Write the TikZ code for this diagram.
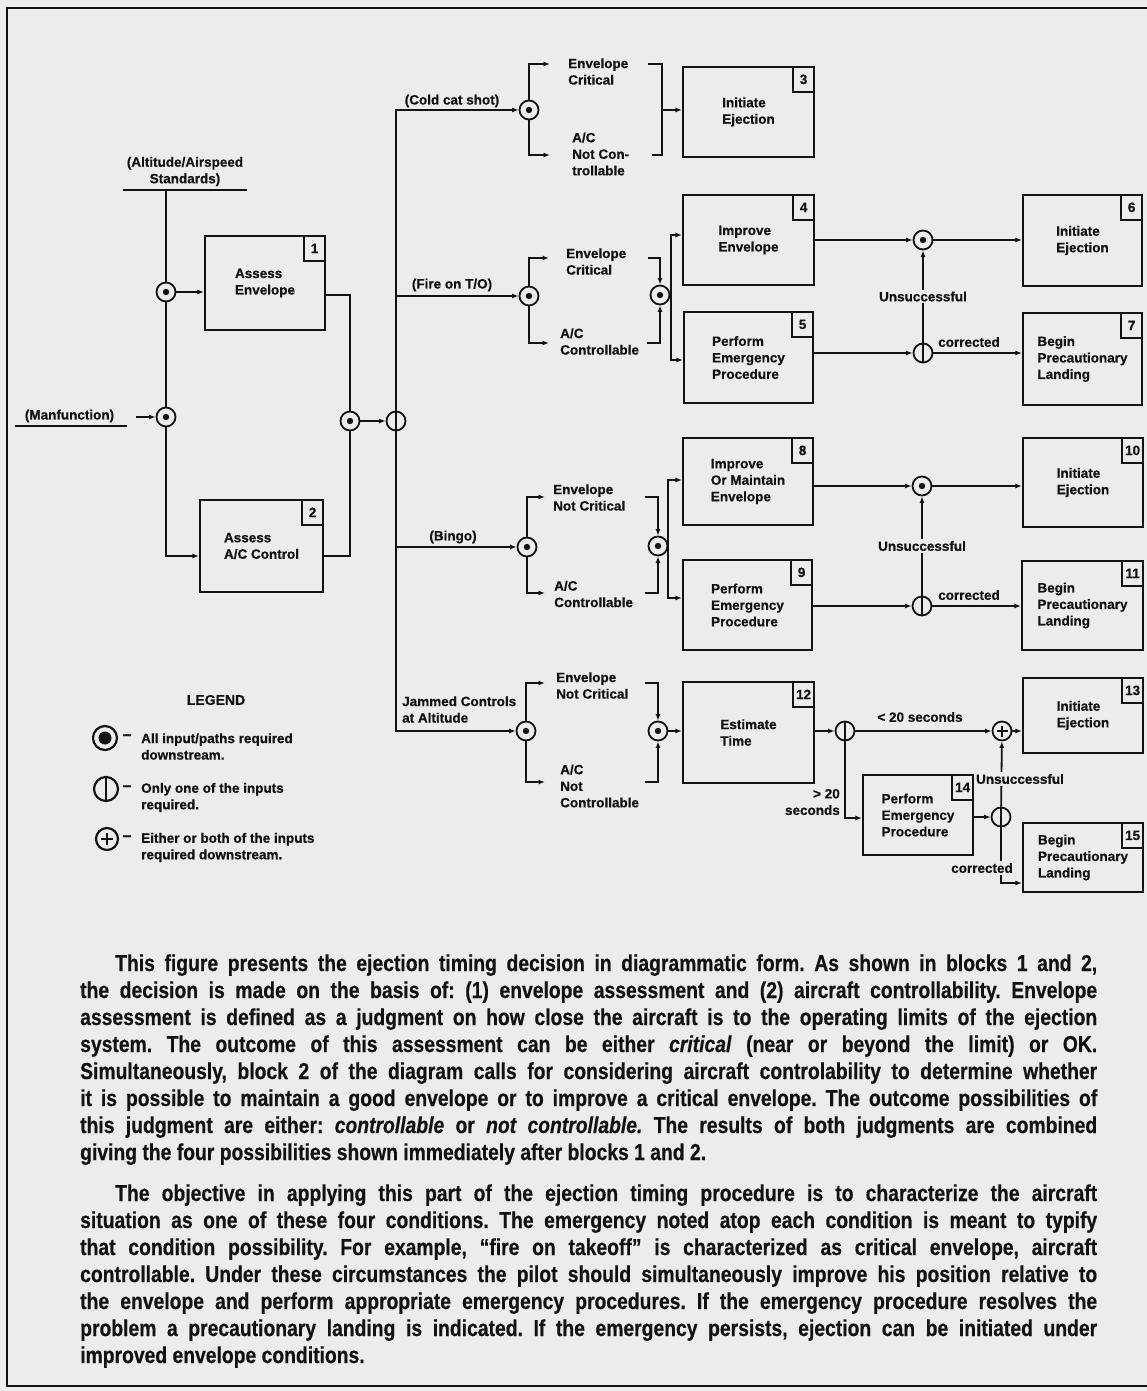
\documentclass[tikz,border=0pt]{standalone}
\usepackage{fontspec}
\usetikzlibrary{arrows.meta}
\newfontfamily\dgfont[BoldFeatures={FakeBold=0.6}]{Liberation Sans}
\newfontfamily\bodyfont[FakeStretch=0.84,BoldFeatures={FakeBold=0.5},BoldItalicFeatures={FakeBold=0.5}]{Liberation Sans}
\definecolor{paper}{RGB}{236,236,236}
\definecolor{ink}{RGB}{18,18,18}
\newcommand\dglab{\dgfont\bfseries\fontsize{13.5pt}{16.5pt}\selectfont}
\newcommand\bodytxt{\bodyfont\bfseries\fontsize{23pt}{27pt}\selectfont}
\begin{document}
\begin{tikzpicture}[x=1pt,y=-1pt,
  ln/.style={draw=ink, line width=1.8pt},
  arr/.style={ln, -{Latex[length=6.5pt,width=5pt]}},
  sym/.style={circle, draw=ink, line width=1.8pt, minimum size=19pt, inner sep=0pt, fill=paper},
  andc/.style={sym, path picture={\fill[ink] (path picture bounding box.center) circle (3.2pt);}},
  orc/.style={sym, path picture={\draw[ink, line width=1.8pt] (path picture bounding box.north) -- (path picture bounding box.south);}},
  plc/.style={sym, path picture={\draw[ink, line width=1.8pt]
     ([yshift=5.5pt]path picture bounding box.center) -- ([yshift=-5.5pt]path picture bounding box.center)
     ([xshift=-5.5pt]path picture bounding box.center) -- ([xshift=5.5pt]path picture bounding box.center);}},
  lgsym/.style={circle, draw=ink, line width=2.2pt, minimum size=24pt, inner sep=0pt, fill=paper},
  box/.style={draw=ink, line width=2.2pt, fill=paper, inner sep=0pt, align=left, font=\dglab, text=ink},
  numbox/.style={draw=ink, line width=2pt, minimum width=21pt, minimum height=25pt, inner sep=0pt, anchor=north east, font=\dglab, text=ink},
  lbl/.style={font=\dglab, text=ink, inner sep=1pt, align=left},
  lblbg/.style={lbl, fill=paper, inner sep=2pt},
]
\fill[paper] (0,0) rectangle (1147,1391);
\useasboundingbox (0,0) rectangle (1147,1391);
% frame
\draw[ink, line width=2pt] (1147,8) -- (7,8) -- (7,1386) -- (1147,1386);

% ---------- boxes ----------
\node[box, minimum width=120pt, minimum height=94pt] (b1) at (265,283) {Assess\\Envelope};
\node[numbox] at (b1.north east) {1};
\node[box, minimum width=123pt, minimum height=92pt] (b2) at (261.5,546) {Assess\\A/C Control};
\node[numbox] at (b2.north east) {2};
\node[box, minimum width=131pt, minimum height=90pt] (b3) at (748.5,112) {Initiate\\Ejection};
\node[numbox] at (b3.north east) {3};
\node[box, minimum width=131pt, minimum height=90pt] (b4) at (748.5,240) {Improve\\Envelope};
\node[numbox] at (b4.north east) {4};
\node[box, minimum width=129pt, minimum height=91pt] (b5) at (748.5,357.5) {Perform\\Emergency\\Procedure};
\node[numbox] at (b5.north east) {5};
\node[box, minimum width=119pt, minimum height=91pt] (b6) at (1082.5,240.5) {Initiate\\Ejection};
\node[numbox] at (b6.north east) {6};
\node[box, minimum width=119pt, minimum height=92pt] (b7) at (1082.5,359) {Begin\\Precautionary\\Landing};
\node[numbox] at (b7.north east) {7};
\node[box, minimum width=130pt, minimum height=87pt] (b8) at (748,481.5) {Improve\\Or Maintain\\Envelope};
\node[numbox] at (b8.north east) {8};
\node[box, minimum width=129pt, minimum height=90pt] (b9) at (747.5,605) {Perform\\Emergency\\Procedure};
\node[numbox] at (b9.north east) {9};
\node[box, minimum width=120pt, minimum height=89pt] (b10) at (1083,482.5) {Initiate\\Ejection};
\node[numbox] at (b10.north east) {10};
\node[box, minimum width=121pt, minimum height=89pt] (b11) at (1082.5,605.5) {Begin\\Precautionary\\Landing};
\node[numbox] at (b11.north east) {11};
\node[box, minimum width=131pt, minimum height=101pt] (b12) at (748.5,732.5) {Estimate\\Time};
\node[numbox] at (b12.north east) {12};
\node[box, minimum width=120pt, minimum height=75pt] (b13) at (1083,715.5) {Initiate\\Ejection};
\node[numbox] at (b13.north east) {13};
\node[box, minimum width=110pt, minimum height=80pt] (b14) at (918,815) {Perform\\Emergency\\Procedure};
\node[numbox] at (b14.north east) {14};
\node[box, minimum width=120pt, minimum height=69pt] (b15) at (1083,857.5) {Begin\\Precautionary\\Landing};
\node[numbox] at (b15.north east) {15};

% ---------- junction symbols ----------
\node[andc] (in1) at (166,292) {};
\node[andc] (mal) at (166,417) {};
\node[andc] (j1) at (350,421) {};
\node[orc]  (or1) at (396,421) {};
\node[andc] (c1) at (529,110) {};
\node[andc] (c2) at (529,296) {};
\node[andc] (c3) at (527,547) {};
\node[andc] (c4) at (526,731) {};
\node[andc] (d2) at (660,295) {};
\node[andc] (d3) at (658,546) {};
\node[andc] (d4) at (658,731) {};
\node[andc] (a4) at (923,240) {};
\node[orc]  (o5) at (923,353) {};
\node[andc] (a8) at (922,486) {};
\node[orc]  (o9) at (922,606) {};
\node[orc]  (o12) at (845,731) {};
\node[plc]  (p13) at (1002,731) {};
\node[orc]  (o14) at (1001,817) {};

% ---------- inputs ----------
\node[lbl, align=center] (alt) at (185,171.5) {(Altitude/Airspeed\\Standards)};
\coordinate (altL) at (123,190);
\coordinate (altR) at (247,190);
\coordinate (altU) at (166,190);
\draw[ln] (altL) -- (altR);
\node[lbl] (malf) at (69.5,416) {(Manfunction)};
\coordinate (malL) at (15,426);
\coordinate (malR) at (127,426);
\draw[ln] (malL) -- (malR);
\coordinate (malIn) at (136,417);

\draw[ln] (altU) -- (in1);
\draw[ln] (in1) -- (mal);
\draw[arr] (malIn) -- (mal);
\draw[arr] (in1) -- (in1 -| b1.west);
\draw[arr] (mal) |- (b2.west |- 0,556);
\draw[ln] (b1.east |- 0,295) -| (j1);
\draw[ln] (b2.east |- 0,556) -| (j1);
\draw[arr] (j1) -- (or1);

% ---------- trunk ----------
\coordinate (tTop) at (396,110);
\coordinate (t2) at (396,296);
\coordinate (t3) at (396,547);
\coordinate (tBot) at (396,731);
\draw[arr] (or1) -- (tTop) -- (c1);
\draw[arr] (or1) -- (tBot) -- (c4);
\draw[arr] (t2) -- (c2);
\draw[arr] (t3) -- (c3);
\node[lbl] at (452,101) {(Cold cat shot)};
\node[lbl] at (452,285) {(Fire on T/O)};
\node[lbl] at (453,537) {(Bingo)};
\node[lbl, anchor=west] at (401,709.5) {Jammed Controls\\at Altitude};

% ---------- group 1 ----------
\coordinate (g1T) at (550,64);
\coordinate (g1B) at (550,155);
\draw[arr] (c1) |- (g1T);
\draw[arr] (c1) |- (g1B);
\node[lbl, anchor=west] (e1) at (567,71.5) {Envelope\\Critical};
\node[lbl, anchor=west] (n1) at (571,154) {A/C\\Not Con-\\trollable};
\coordinate (k1T) at (648,64);
\coordinate (k1TR) at (662,64);
\coordinate (k1BR) at (662,155);
\coordinate (k1B) at (652,155);
\coordinate (br1) at (662,110);
\draw[ln] (k1T) -- (k1TR) -- (k1BR) -- (k1B);
\draw[arr] (br1) -- (br1 -| b3.west);

% ---------- group 2 ----------
\coordinate (g2T) at (549,258);
\coordinate (g2B) at (549,343);
\draw[arr] (c2) |- (g2T);
\draw[arr] (c2) |- (g2B);
\node[lbl, anchor=west] (e2) at (565,261.5) {Envelope\\Critical};
\node[lbl, anchor=west] (n2) at (559,341.5) {A/C\\Controllable};
\coordinate (k2T) at (648,258);
\coordinate (k2B) at (647,343);
\draw[arr] (k2T) -| (d2);
\draw[arr] (k2B) -| (d2);
\coordinate (s2) at (671,295);
\draw[ln] (d2) -- (s2);
\draw[arr] (s2) |- (b4.west |- 0,235);
\draw[arr] (s2) |- (b5.west |- 0,360);
\draw[arr] (b4.east) -- (a4);
\draw[arr] (a4) -- (a4 -| b6.west);
\draw[arr] (b5.east |- o5) -- (o5);
\draw[arr] (o5) -- (o5 -| b7.west);
\draw[arr] (o5) -- node[lblbg] {Unsuccessful} (a4);
\node[lbl] at (969,342) {corrected};

% ---------- group 3 ----------
\coordinate (g3T) at (545,497);
\coordinate (g3B) at (545,593);
\draw[arr] (c3) |- (g3T);
\draw[arr] (c3) |- (g3B);
\node[lbl, anchor=west] (e3) at (552,497.5) {Envelope\\Not Critical};
\node[lbl, anchor=west] (n3) at (553,594) {A/C\\Controllable};
\coordinate (k3T) at (645,497);
\coordinate (k3B) at (645,593);
\draw[arr] (k3T) -| (d3);
\draw[arr] (k3B) -| (d3);
\coordinate (s3) at (668,546);
\draw[ln] (d3) -- (s3);
\draw[arr] (s3) |- (b8.west |- 0,480);
\draw[arr] (s3) |- (b9.west |- 0,598);
\draw[arr] (b8.east |- a8) -- (a8);
\draw[arr] (a8) -- (a8 -| b10.west);
\draw[arr] (b9.east |- o9) -- (o9);
\draw[arr] (o9) -- (o9 -| b11.west);
\draw[arr] (o9) -- node[lblbg] {Unsuccessful} (a8);
\node[lbl] at (969,595) {corrected};

% ---------- group 4 ----------
\coordinate (g4T) at (545,683);
\coordinate (g4B) at (545,782);
\draw[arr] (c4) |- (g4T);
\draw[arr] (c4) |- (g4B);
\node[lbl, anchor=west] (e4) at (555,685.5) {Envelope\\Not Critical};
\node[lbl, anchor=west] (n4) at (559,786) {A/C\\Not\\Controllable};
\coordinate (k4T) at (645,683);
\coordinate (k4B) at (645,782);
\draw[arr] (k4T) -| (d4);
\draw[arr] (k4B) -| (d4);
\draw[arr] (d4) -- (d4 -| b12.west);
\draw[arr] (b12.east |- o12) -- (o12);
\draw[arr] (o12) -- (p13);
\node[lbl] at (920,717) {< 20 seconds};
\draw[arr] (p13) -- (p13 -| b13.west);
\draw[arr] (o12) |- (b14.west |- 0,818);
\node[lbl, anchor=east, align=right] at (841,802) {> 20\\seconds};
\draw[arr] (b14.east |- o14) -- (o14);
\draw[arr] (o14) -- (p13);
\node[lblbg] at (1020,779) {Unsuccessful};
\draw[arr] (o14) |- (b15.west |- 0,883);
\node[lblbg] at (982,868) {corrected};

% ---------- legend ----------
\node[lbl, font=\dgfont\bfseries\fontsize{14pt}{17pt}\selectfont] (lgt) at (216,700) {LEGEND};
\node[lgsym, path picture={\fill[ink] (path picture bounding box.center) circle (6.5pt);}] (lg1) at (105,738) {};
\node[lgsym, path picture={\draw[ink, line width=2pt] (path picture bounding box.north) -- (path picture bounding box.south);}] (lg2) at (106,789) {};
\node[lgsym, minimum size=22pt, path picture={\draw[ink, line width=2pt]
     ([yshift=6pt]path picture bounding box.center) -- ([yshift=-6pt]path picture bounding box.center)
     ([xshift=-6pt]path picture bounding box.center) -- ([xshift=6pt]path picture bounding box.center);}] (lg3) at (107,839) {};
\node[lbl, font=\dgfont\bfseries\fontsize{16pt}{17pt}\selectfont] at (127,737) {–};
\node[lbl, font=\dgfont\bfseries\fontsize{16pt}{17pt}\selectfont] at (127,788) {–};
\node[lbl, font=\dgfont\bfseries\fontsize{16pt}{17pt}\selectfont] at (127,838) {–};
\node[lbl, anchor=west] at (140,746.5) {All input/paths required\\downstream.};
\node[lbl, anchor=west] at (140,797.5) {Only one of the inputs\\required.};
\node[lbl, anchor=west] at (140,847.5) {Either or both of the inputs\\required downstream.};

% ---------- body text ----------
\node[anchor=base west, text width=1017pt, align=justify, inner sep=0pt, font=\bodytxt, text=ink] (body) at (80,971) {%
\parindent=0pt \tolerance=9999 \hbadness=10000 \emergencystretch=20pt \frenchspacing
\hspace*{35pt}This figure presents the ejection timing decision in diagrammatic form. As shown in blocks 1 and 2,\linebreak
the decision is made on the basis of: (1) envelope assessment and (2) aircraft controllability. Envelope\linebreak
assessment is defined as a judgment on how close the aircraft is to the operating limits of the ejection\linebreak
system. The outcome of this assessment can be either \textit{critical} (near or beyond the limit) or OK.\linebreak
Simultaneously, block 2 of the diagram calls for considering aircraft controlability to determine whether\linebreak
it is possible to maintain a good envelope or to improve a critical envelope. The outcome possibilities of\linebreak
this judgment are either: \textit{controllable} or \textit{not controllable.} The results of both judgments are combined\linebreak
giving the four possibilities shown immediately after blocks 1 and 2.\par
\vspace{14pt}
\hspace*{35pt}The objective in applying this part of the ejection timing procedure is to characterize the aircraft\linebreak
situation as one of these four conditions. The emergency noted atop each condition is meant to typify\linebreak
that condition possibility. For example, “fire on takeoff” is characterized as critical envelope, aircraft\linebreak
controllable. Under these circumstances the pilot should simultaneously improve his position relative to\linebreak
the envelope and perform appropriate emergency procedures. If the emergency procedure resolves the\linebreak
problem a precautionary landing is indicated. If the emergency persists, ejection can be initiated under\linebreak
improved envelope conditions.\par};
\end{tikzpicture}
\end{document}
